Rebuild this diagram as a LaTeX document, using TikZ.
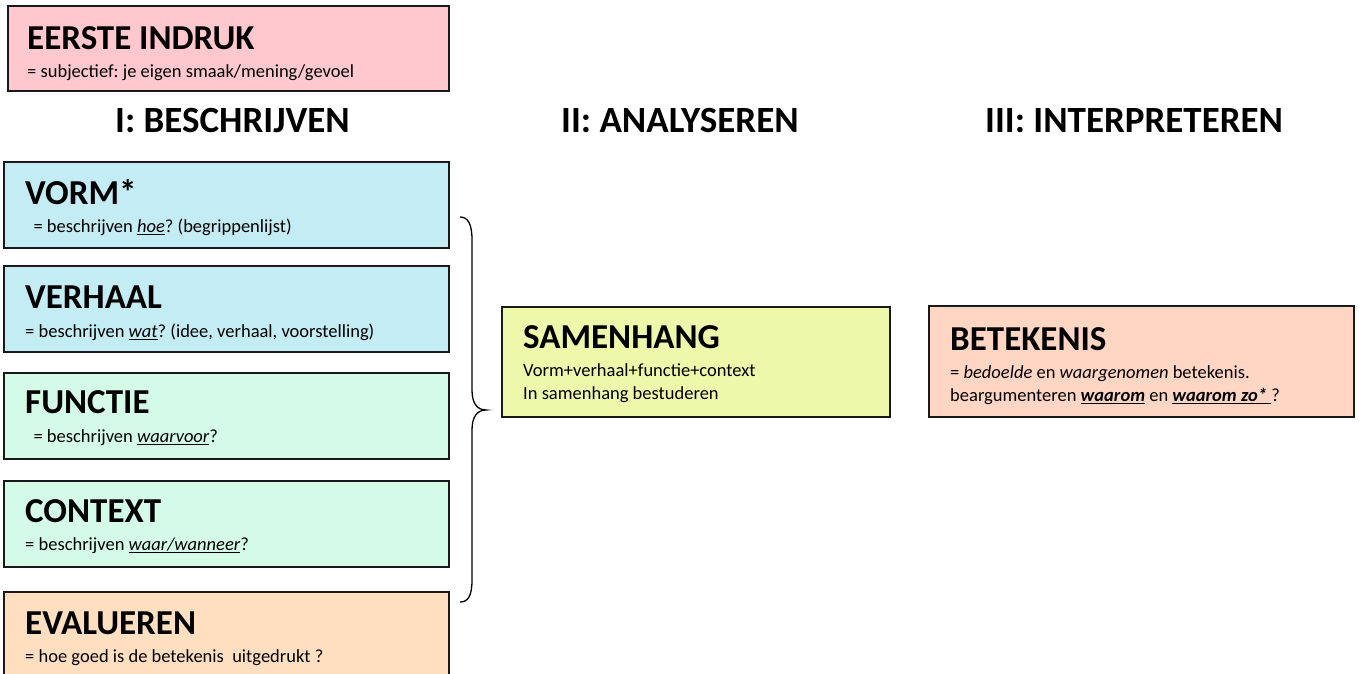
\documentclass[tikz,border=0pt]{standalone}
\usepackage{fontspec}
\setmainfont{Carlito}
\usetikzlibrary{positioning}

\definecolor{roze}{RGB}{255,199,206}
\definecolor{blauw}{RGB}{196,236,245}
\definecolor{mint}{RGB}{212,251,232}
\definecolor{perzik}{RGB}{255,223,192}
\definecolor{geel}{RGB}{238,248,170}
\definecolor{zalm}{RGB}{255,213,196}
\newcommand\onder[1]{\setbox0\hbox{#1}\rlap{\rule[-3pt]{\wd0}{1.2pt}}\box0\relax}
\frenchspacing

\begin{document}
\begin{tikzpicture}[x=1pt,y=-1pt,
  kader/.style={draw=black!90,line width=1.6pt,anchor=north west,inner sep=0pt,minimum width=445pt,minimum height=86pt},
  kop/.style={anchor=base west,inner sep=0pt,font=\fontsize{35}{42}\selectfont\bfseries},
  uitleg/.style={anchor=base west,inner sep=0pt,font=\fontsize{18.5}{22}\selectfont},
  fase/.style={anchor=base west,inner sep=0pt,font=\fontsize{37}{44}\selectfont\bfseries}]
\useasboundingbox (0,0) rectangle (1359,674);
\begin{scope}
\clip (0,0) rectangle (1359,674);
% Eerste indruk
\node[kader,fill=roze,minimum width=441pt,minimum height=85pt] (indruk) at (7,5) {};
\node[kop] (indrukK) at (27,50) {EERSTE INDRUK};
\node[uitleg] (indrukU) at (27,78) {= subjectief: je eigen smaak/mening/gevoel};
% Fasen
\node[fase] (fase1) at (115,132) {I: BESCHRIJVEN};
\node[fase] (fase2) at (561,132) {II: ANALYSEREN};
\node[fase] (fase3) at (985,132) {III: INTERPRETEREN};
% Beschrijven
\node[kader,fill=blauw] (vorm) at (3,161) {};
\node[kop] (vormK) at (25,204) {VORM*};
\node[uitleg] (vormU) at (25,232) {\ \ = beschrijven \onder{\textit{hoe}}? (begrippenlijst)};
\node[kader,fill=blauw] (verhaal) at (3,265) {};
\node[kop] (verhaalK) at (25,308) {VERHAAL};
\node[uitleg] (verhaalU) at (25,337) {= beschrijven \onder{\textit{wat}}? (idee, verhaal, voorstelling)};
\node[kader,fill=mint] (functie) at (3,372) {};
\node[kop] (functieK) at (25,413) {FUNCTIE};
\node[uitleg] (functieU) at (25,442) {\ \ = beschrijven \onder{\textit{waarvoor}}?};
\node[kader,fill=mint] (context) at (3,480) {};
\node[kop] (contextK) at (25,522) {CONTEXT};
\node[uitleg] (contextU) at (25,550) {= beschrijven \onder{\textit{waar/wanneer}}?};
\node[kader,fill=perzik,minimum height=120pt] (evalueren) at (3,591) {};
\node[kop] (evaluerenK) at (25,634) {EVALUEREN};
\node[uitleg] (evaluerenU) at (25,662) {= hoe goed is de betekenis\ \ uitgedrukt ?};
\end{scope}
% Accolade
\coordinate (accBoven) at (460,217);
\coordinate (accPunt) at (486,410);
\coordinate (accOnder) at (460,602);
\draw[line width=1.3pt] (accBoven) .. controls (468,217) and (472,224) .. (472,240) -- (472,390)
  .. controls (472,403) and (477,410) .. (accPunt) .. controls (477,410) and (472,417) .. (472,430)
  -- (472,580) .. controls (472,596) and (468,602) .. (accOnder);
% Analyseren
\node[kader,fill=geel,minimum width=388pt,minimum height=110pt] (samenhang) at (501,306) {};
\node[kop] (samenhangK) at (523,348) {SAMENHANG};
\node[uitleg] (samenhangU) at (523,376) {Vorm+verhaal+functie+context};
\node[uitleg] (samenhangV) at (523,399) {In samenhang bestuderen};
% Interpreteren
\node[kader,fill=zalm,minimum width=425pt,minimum height=111pt] (betekenis) at (928,305) {};
\node[kop] (betekenisK) at (950,350) {BETEKENIS};
\node[uitleg] (betekenisU) at (950,378) {= \textit{bedoelde} en \textit{waargenomen} betekenis.};
\node[uitleg] (betekenisV) at (950,401) {beargumenteren \onder{\textbf{\textit{waarom}}} en \onder{\textbf{\textit{waarom zo*}}\ }?};
\end{tikzpicture}
\end{document}
